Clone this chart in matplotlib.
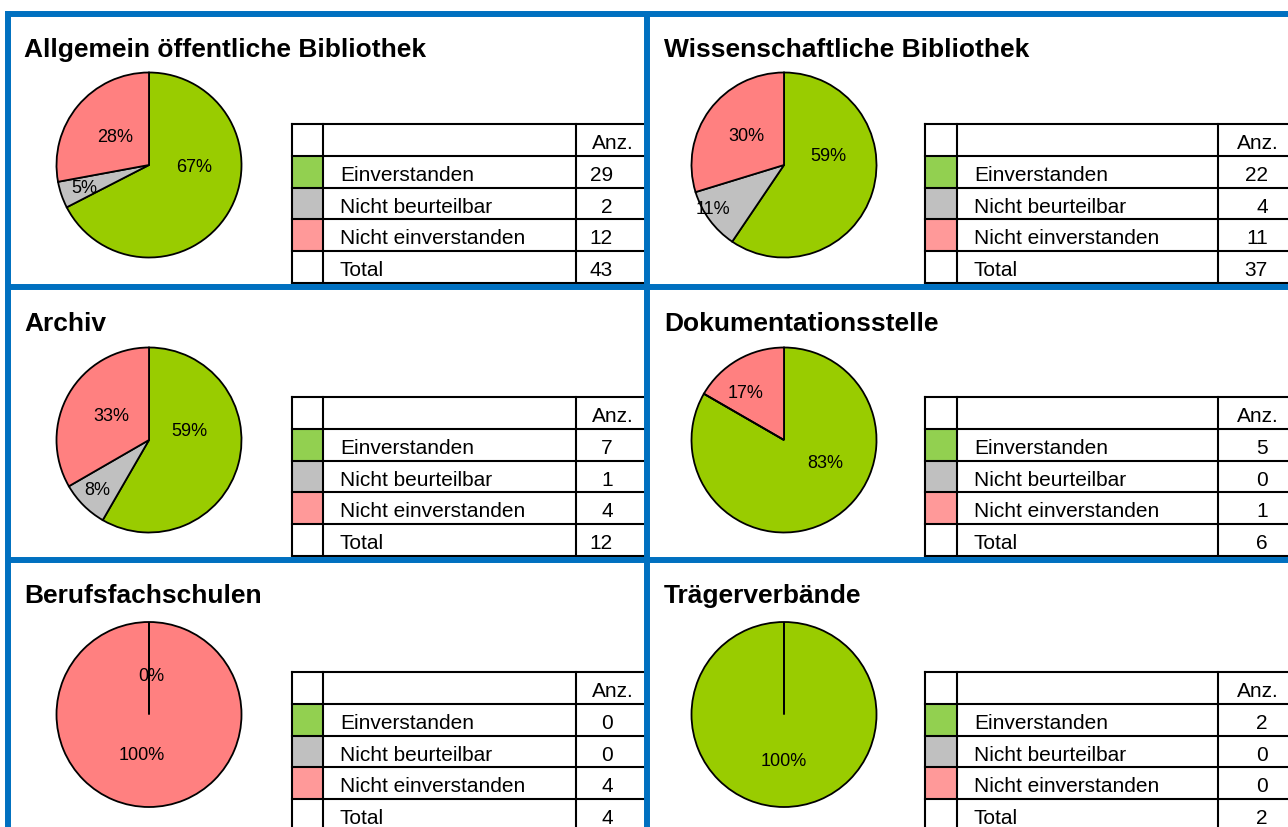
import matplotlib.pyplot as plt
from matplotlib.patches import Rectangle

plt.rcParams['font.family'] = ['Liberation Sans', 'DejaVu Sans']

# data
groups = ["Allgemein öffentliche Bibliothek", "Wissenschaftliche Bibliothek", "Archiv",
          "Dokumentationsstelle", "Berufsfachschulen", "Trägerverbände"]
categories = ["Einverstanden", "Nicht beurteilbar", "Nicht einverstanden"]
einverstanden = [29, 22, 7, 5, 0, 2]
nicht_beurteilbar = [2, 4, 1, 0, 0, 0]
nicht_einverstanden = [12, 11, 4, 1, 4, 0]
pct_labels = [["67%", "5%", "28%"],
              ["59%", "11%", "30%"],
              ["59%", "8%", "33%"],
              ["83%", "", "17%"],
              ["0%", "", "100%"],
              ["100%", "", ""]]

# where Excel put the percentage labels (in units of the pie radius)
label_xy = [[(0.49, -0.02), (-0.70, -0.24), (-0.37, 0.31)],
            [(0.48, 0.10), (-0.77, -0.47), (-0.41, 0.32)],
            [(0.44, 0.10), (-0.56, -0.53), (-0.41, 0.27)],
            [(0.45, -0.24), (0, 0), (-0.42, 0.51)],
            [(0.02, 0.42), (0, 0), (-0.08, -0.43)],
            [(0.0, -0.50), (0, 0), (0, 0)]]

pie_colors = ["#99CC00", "#C0C0C0", "#FF8080"]
swatch_colors = ["#92D050", "#C0C0C0", "#FF9999"]
blue = "#0070C0"

W, H = 1288, 828
fig = plt.figure(figsize=(W / 100, H / 100), dpi=100)
bg = fig.add_axes([0, 0, 1, 1])
bg.set_xlim(0, W)
bg.set_ylim(H, 0)
bg.axis("off")

# layout in pixels
title_x = [24, 664]
pie_cx = [149, 784]
table_cols = [[292, 323, 576], [925, 957, 1218]]
table_end = [646, W + 5]
anz_x = [592, 1237]
count_right = [613, 1268]
title_base = [57, 331, 603]
pie_cy = [166, 441, 715.5]
table_top = [125, 398, 673]
row_h = 31.8
r = 92.5

for i, name in enumerate(groups):
    col, row = i % 2, i // 2
    vals = [einverstanden[i], nicht_beurteilbar[i], nicht_einverstanden[i]]

    bg.text(title_x[col], title_base[row], name, fontsize=19, fontweight="bold",
            va="baseline", ha="left")

    # pie
    cx, cy = pie_cx[col], pie_cy[row]
    ax = fig.add_axes([(cx - r) / W, 1 - (cy + r) / H, 2 * r / W, 2 * r / H])
    wedges, _ = ax.pie(vals, colors=pie_colors, startangle=90, counterclock=False,
                       wedgeprops=dict(edgecolor="black", linewidth=1.3))
    for w, v in zip(wedges, vals):
        if v == 0:
            w.set_zorder(3)
    ax.set_xlim(-1, 1)
    ax.set_ylim(-1, 1)
    ax.axis("off")
    for lab, (lx, ly) in zip(pct_labels[i], label_xy[i]):
        if lab:
            ax.text(lx, ly, lab, fontsize=13, ha="center", va="center", zorder=4)

    # table
    x0, x1, x2 = table_cols[col]
    xe = table_end[col]
    top = table_top[row]
    for k, c in enumerate(swatch_colors):
        bg.add_patch(Rectangle((x0, top + (k + 1) * row_h), x1 - x0, row_h,
                               facecolor=c, edgecolor="none"))
    for k in range(6):
        y = top + k * row_h
        bg.plot([x0, xe], [y, y], color="black", lw=1.5)
    for x in (x0, x1, x2):
        bg.plot([x, x], [top, top + 5 * row_h], color="black", lw=1.5)

    rows = [""] + categories + ["Total"]
    counts = [None] + vals + [sum(vals)]
    for k, (lab, n) in enumerate(zip(rows, counts)):
        yb = top + k * row_h + 24
        if lab:
            bg.text(x1 + 17, yb, lab, fontsize=15, va="baseline", ha="left")
        if n is None:
            bg.text(anz_x[col], yb, "Anz.", fontsize=15, va="baseline", ha="left")
        else:
            bg.text(count_right[col], yb, str(n), fontsize=15, va="baseline", ha="right")

# blue frame
bw = 4.3
bg.plot([6, W], [15, 15], color=blue, lw=bw, solid_capstyle="butt")
bg.plot([6, W], [287.5, 287.5], color=blue, lw=bw, solid_capstyle="butt")
bg.plot([6, W], [561, 561], color=blue, lw=bw, solid_capstyle="butt")
bg.plot([8.5, 8.5], [12, H], color=blue, lw=bw, solid_capstyle="butt")
bg.plot([647.5, 647.5], [12, H], color=blue, lw=bw, solid_capstyle="butt")

fig.savefig("out.png", dpi=100)
